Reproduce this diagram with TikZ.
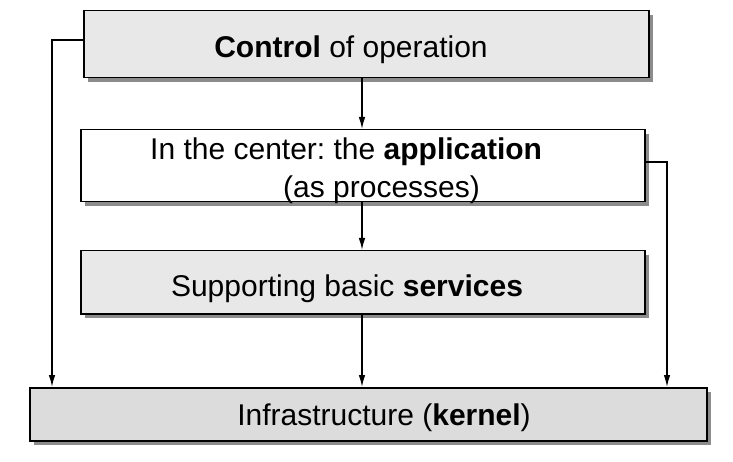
\documentclass[tikz,border=0pt]{standalone}
\usepackage{fontspec}
\setmainfont{Liberation Sans}
\usetikzlibrary{arrows.meta,shadows}
\definecolor{boxgray}{HTML}{E8E8E8}
\definecolor{kerngray}{HTML}{DCDCDC}
\definecolor{shadowgray}{HTML}{8C8C8C}
\tikzset{
  layer/.style={draw, line width=1.5pt, inner sep=0pt, anchor=north west,
    drop shadow={shadow xshift=4pt, shadow yshift=-4pt, fill=shadowgray, opacity=1}},
  txt/.style={inner sep=0pt, font=\fontsize{30}{34}\selectfont\frenchspacing},
  flow/.style={line width=1.3pt, -{Latex[length=12pt,width=6.5pt]}}
}
\begin{document}
\begin{tikzpicture}[x=1pt,y=-1pt]
    \useasboundingbox (0,0) rectangle (733,462);
    % the four layers
    \node[layer, fill=boxgray, minimum width=565pt, minimum height=67pt] (ctrl) at (83,10) {};
    \node[layer, fill=white, minimum width=564pt, minimum height=72pt] (app) at (80,129) {};
    \node[layer, fill=boxgray, minimum width=564pt, minimum height=63pt] (serv) at (80,250) {};
    \node[layer, fill=kerngray, minimum width=677pt, minimum height=53pt] (kern) at (29,387) {};

    % texts of the layers
    \node[txt] (ctrltxt) at (351,50) {\textbf{Control} of operation};
    \node[txt, anchor=west] (apptxt) at (150,152) {In the center: the \textbf{application}};
    \node[txt, anchor=west] (proctxt) at (283,190) {(as processes)};
    \node[txt] (servtxt) at (347,289) {Supporting basic \textbf{services}};
    \node[txt] (kerntxt) at (384,418) {Infrastructure (\textbf{kernel})};

    % arrows down the middle
    \coordinate (midx) at (362,0);
    \draw[flow] (midx |- ctrl.south) -- (midx |- app.north);
    \draw[flow] (midx |- app.south) -- (midx |- serv.north);
    \draw[flow] (midx |- serv.south) -- (midx |- kern.north);

    % side arrows to the kernel
    \coordinate (leftx) at (52,40);
    \draw[flow] (ctrl.west |- leftx) -- (leftx) -- (leftx |- kern.north);
    \coordinate (rightx) at (667,162);
    \draw[flow] (app.east |- rightx) -- (rightx) -- (rightx |- kern.north);
\end{tikzpicture}
\end{document}
